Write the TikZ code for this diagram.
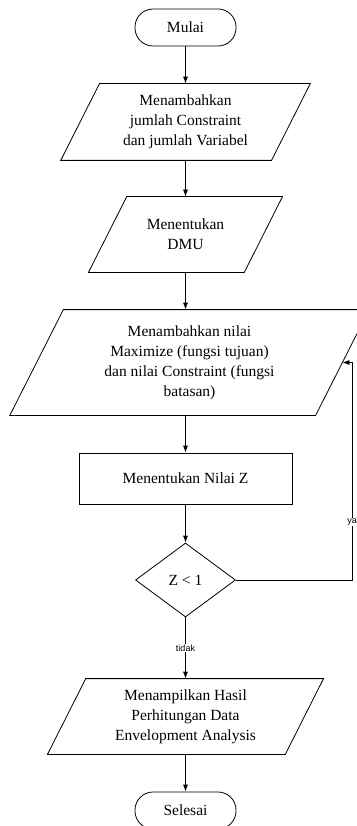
\documentclass[tikz,border=0pt]{standalone}
\usepackage{fontspec}
\setmainfont{Liberation Serif}
\setsansfont{Liberation Sans}
\usetikzlibrary{arrows.meta,shapes.geometric}

\begin{document}
\begin{tikzpicture}[x=1pt,y=-1pt,line width=0.8pt,
  font=\fontsize{15.5}{20}\selectfont,
  terminal/.style={draw,rounded corners=18pt,minimum width=101pt,minimum height=37pt},
  io/.style 2 args={align=center,inner sep=0pt,minimum width=#1,minimum height=#2,
    append after command={\pgfextra{\draw
      ([xshift={0.255*#2}]\tikzlastnode.north west) -- ([xshift={0.255*#2}]\tikzlastnode.north east)
      -- ([xshift={-0.255*#2}]\tikzlastnode.south east) -- ([xshift={-0.255*#2}]\tikzlastnode.south west)
      -- cycle;}}},
  process/.style={draw,minimum width=213pt,minimum height=51pt},
  decision/.style={draw,diamond,minimum width=100pt,minimum height=74pt,inner sep=0pt},
  flow/.style={-{Latex[length=7pt,width=5pt]}},
  branch/.style={font=\sffamily\fontsize{9}{10}\selectfont,fill=white,inner sep=1pt}]
\useasboundingbox (0,0) rectangle (356,826);

% Start and input steps
\node[terminal] (mulai) at (185.5,27.5) {Mulai};
\node[io={210pt}{76pt}] (jumlah) at (185.5,122)
  {Menambahkan\\jumlah Constraint\\dan jumlah Variabel};
\node[io={155pt}{75pt}] (dmu) at (185.5,234.5)
  {Menentukan\\DMU};
\node[io={305pt}{105pt}] (nilai) at (189.5,362.5)
  {Menambahkan nilai\\Maximize (fungsi tujuan)\\dan nilai Constraint (fungsi\\batasan)};

% Computation and check
\node[process] (hitung) at (185.5,478.5) {Menentukan Nilai Z};
\node[decision] (cek) at (185.5,580) {Z < 1};
\coordinate (balik) at (352,580);

% Output and end
\node[io={237pt}{75pt}] (hasil) at (185.5,716.5)
  {Menampilkan Hasil\\Perhitungan Data\\Envelopment Analysis};
\node[terminal] (selesai) at (185.5,810.5) {Selesai};

% Connectors
\draw[flow] (mulai) -- (jumlah);
\draw[flow] (jumlah) -- (dmu);
\draw[flow] (dmu.south) -- (dmu.south |- nilai.north);
\draw[flow] (nilai.south -| hitung.north) -- (hitung);
\draw[flow] (hitung) -- (cek);
\draw[flow] (cek) -- node[branch] (tidak) {tidak} (hasil);
\draw[flow] (cek.east) -- (balik) |- (nilai.east);
\node[branch] (ya) at (352,522) {ya};
\draw[flow] (hasil) -- (selesai);
\end{tikzpicture}
\end{document}
